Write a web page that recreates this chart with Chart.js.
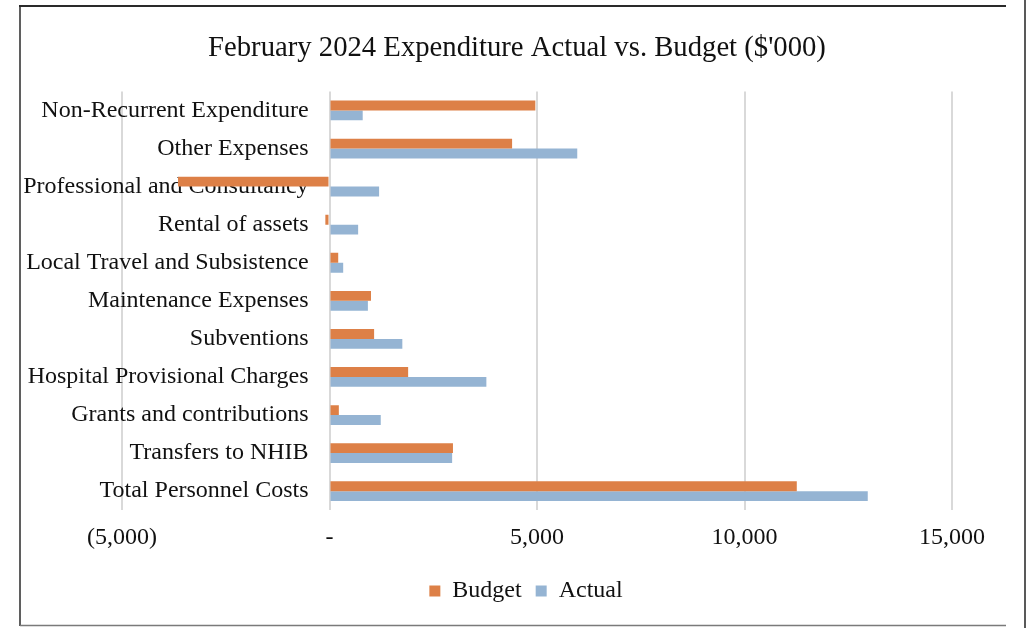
<!DOCTYPE html>
<html>
<head>
<meta charset="utf-8">
<script src="https://cdn.jsdelivr.net/npm/chart.js@4.4.1/dist/chart.umd.min.js"></script>
<style>
  html, body { margin: 0; padding: 0; background: #fff; }
  #wrap { width: 1026px; height: 628px; position: relative; }
  canvas { display: block; }
</style>
</head>
<body>
<div id="wrap"><canvas id="c" width="1026" height="628"></canvas></div>
<script>
const titleText = "February 2024 Expenditure Actual vs. Budget ($'000)";
const categories = [
  'Non-Recurrent Expenditure',
  'Other Expenses',
  'Professional and Consultancy',
  'Rental of assets',
  'Local Travel and Subsistence',
  'Maintenance Expenses',
  'Subventions',
  'Hospital Provisional Charges',
  'Grants and contributions',
  'Transfers to NHIB',
  'Total Personnel Costs'
];
const budget = [4960, 4400, -3650, -100, 210, 1000, 1075, 1895, 225, 2975, 11260];
const actual = [800, 5970, 1195, 690, 330, 925, 1755, 3780, 1235, 2955, 12970];
const xTickValues = [-5000, 0, 5000, 10000, 15000];
const xTickLabels = ['(5,000)', '-', '5,000', '10,000', '15,000'];

const FONT = '"Liberation Serif", "Times New Roman", serif';

const framePlugin = {
  id: 'frame',
  beforeDraw(chart) {
    // nudge the legend to the right, as in the reference
    if (chart.legend) { chart.legend.left += 9; chart.legend.right += 9; }
  },
  afterDraw(chart) {
    const ctx = chart.ctx;
    ctx.save();
    ctx.strokeStyle = '#2a2a2a';
    ctx.lineWidth = 2;
    ctx.beginPath(); ctx.moveTo(19, 6); ctx.lineTo(1006, 6); ctx.stroke();
    ctx.lineWidth = 1.5;
    ctx.beginPath(); ctx.moveTo(20, 5); ctx.lineTo(20, 626); ctx.stroke();
    ctx.strokeStyle = '#7a7a7a';
    ctx.lineWidth = 1.5;
    ctx.beginPath(); ctx.moveTo(20, 625.5); ctx.lineTo(1006, 625.5); ctx.stroke();
    ctx.strokeStyle = '#222';
    ctx.lineWidth = 1.5;
    ctx.beginPath(); ctx.moveTo(1025, 0); ctx.lineTo(1025, 628); ctx.stroke();
    ctx.restore();
  }
};

new Chart(document.getElementById('c'), {
  type: 'bar',
  data: {
    labels: categories,
    datasets: [
      { label: 'Budget', data: budget, backgroundColor: '#DD8047', borderWidth: 0, barPercentage: 1.0, categoryPercentage: 0.52 },
      { label: 'Actual', data: actual, backgroundColor: '#95B4D3', borderWidth: 0, barPercentage: 1.0, categoryPercentage: 0.52 }
    ]
  },
  options: {
    indexAxis: 'y',
    responsive: false,
    animation: false,
    devicePixelRatio: 1,
    layout: { padding: { top: 31, left: 24, right: 16, bottom: 15 } },
    plugins: {
      title: {
        display: true,
        text: titleText,
        color: '#111',
        font: { family: FONT, size: 28.7, weight: 'normal' },
        padding: { top: 0, bottom: 26 }
      },
      legend: {
        position: 'bottom',
        labels: {
          color: '#111',
          font: { family: FONT, size: 24 },
          boxWidth: 11,
          boxHeight: 11,
          padding: 14
        }
      },
      tooltip: { enabled: false }
    },
    scales: {
      x: {
        type: 'linear',
        min: -5000,
        max: 15000,
        afterBuildTicks(scale) { scale.ticks = xTickValues.map(v => ({ value: v })); },
        ticks: {
          color: '#111',
          font: { family: FONT, size: 24 },
          padding: 13,
          maxRotation: 0,
          callback(value) { const i = xTickValues.indexOf(value); return i >= 0 ? xTickLabels[i] : ''; }
        },
        grid: { color: '#d9d9d9', lineWidth: 2, drawTicks: false },
        border: { display: false }
      },
      y: {
        type: 'category',
        position: { x: -505 },
        ticks: {
          color: '#111',
          font: { family: FONT, size: 24 },
          autoSkip: false,
          padding: 0
        },
        grid: { display: false, drawTicks: false },
        border: { display: false }
      },
      padL: {
        type: 'linear',
        axis: 'y',
        position: 'left',
        display: true,
        ticks: { display: false },
        grid: { display: false, drawTicks: false },
        border: { display: false },
        afterFit(s) { s.width = 98; }
      },
      padR: {
        type: 'linear',
        axis: 'y',
        position: 'right',
        display: true,
        ticks: { display: false },
        grid: { display: false, drawTicks: false },
        border: { display: false },
        afterFit(s) { s.width = 58; }
      }
    }
  },
  plugins: [framePlugin]
});
</script>
</body>
</html>
